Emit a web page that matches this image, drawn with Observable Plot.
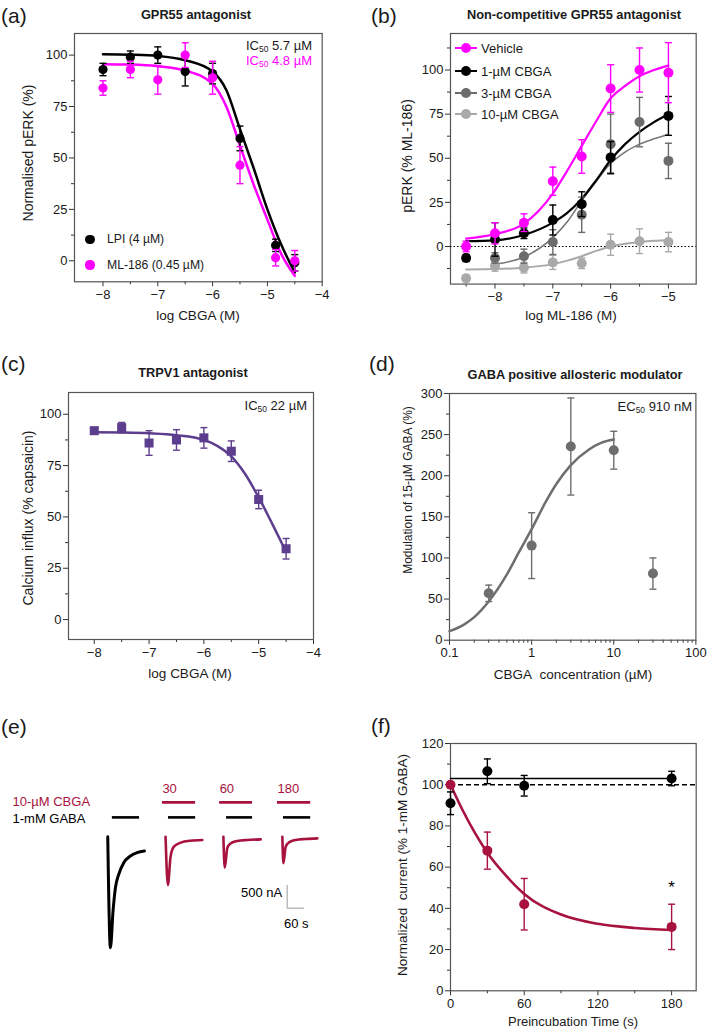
<!DOCTYPE html>
<html><head><meta charset="utf-8">
<script src="https://cdn.jsdelivr.net/npm/d3@7"></script>
<script src="https://cdn.jsdelivr.net/npm/@observablehq/plot@0.6"></script>
<style>
body{margin:0;background:#fff;}
#fig{position:relative;width:709px;height:1032px;font-family:"Liberation Sans",Arial,Helvetica,sans-serif;color:#1a1a1a;overflow:hidden;background:#fff}
.abs{position:absolute;white-space:nowrap;line-height:1}
.plbl{font-size:21px;transform:translate(0,-50%)}
.ttl{font-size:12.8px;font-weight:bold;transform:translate(-50%,-50%)}
.ytl{transform:translate(-50%,-50%) rotate(-90deg);font-size:14px}
.xtl{transform:translate(-50%,-50%);font-size:13.5px}
.ann{font-size:13px;transform:translate(-100%,-50%)}
.leg{transform:translate(0,-50%)}
sub{font-size:0.65em;vertical-align:-0.25em;line-height:0}
svg{overflow:visible}
</style></head><body><div id="fig"></div>
<script>
// ---------------- DATA ----------------
// (a) GPR55 antagonist
const aDose = [-8, -7.5, -7, -6.5, -6, -5.5, -4.85, -4.5];
const aLPI = [93, 99, 100, 92, 91, 59.5, 7.5, -1];
const aLPIerr = [3, 3, 4, 7, 5, 6, 3, 4];
const aML = [84, 93, 88, 100, 89, 46.5, 1.5, 0];
const aMLerr = [3.5, 4, 7, 6, 8, 9, 4, 5];
const aCurveX = [-8, -7.5, -7, -6.5, -6, -5.75, -5.5, -5.25, -5, -4.75, -4.5];
const aLPIcurve = [100.4, 100.2, 99.6, 97.5, 92, 83, 64, 45, 25, 8, -5.7];
const aMLcurve = [95.6, 95.4, 94.6, 92.5, 86, 75, 56, 37, 20, 3.5, -7.3];
const aXticks = [-8, -7, -6, -5, -4];
const aYticks = [0, 25, 50, 75, 100];

// (b) Non-competitive GPR55 antagonist
const bDose = [-8.5, -8, -7.5, -7, -6.5, -6, -5.5, -5];
const bVeh = [0, 7.5, 13.5, 37, 51, 89.5, 100, 98.5];
const bVehErr = [3, 6, 5, 8, 9.5, 13.5, 12.5, 17];
const b1 = [-6.5, 4, 7.5, 15, 24, 50.5, null, 74];
const b1Err = [2, 9.5, 3, 8.5, 7, 9, 0, 11];
const b3 = [null, -6.5, -5.5, 2.5, 18, 58, 70.5, 48.5];
const b3Err = [0, 3, 4, 7, 10, 17, 14, 10];
const b10 = [-18, -11, -12, -9, -9.5, 1, 3, 2.5];
const b10Err = [2, 3, 3, 4, 3, 6, 7, 5.5];
const bCurveX = [-8.5, -8, -7.5, -7, -6.75, -6.5, -6.25, -6, -5.75, -5.5, -5.25, -5];
const bVehCurve = [4.5, 7, 13, 30, 43, 57, 71, 84, 91, 96.5, 100, 102.5];
const b1Curve = [3, 3.5, 6.5, 13.5, 19, 27, 37.5, 49, 58, 65, 70.5, 75];
const b3Curve = [null, -10, -6, 5, 14, 26, 37, 47, 53.5, 58, 61, 63.5];
const b10Curve = [-13, -12.8, -12, -10, -8, -5.5, -2.5, 0, 1.5, 2.5, 3.2, 3.5];
const bLegend = ["Vehicle", "1-µM CBGA", "3-µM CBGA", "10-µM CBGA"];
const bXticks = [-8, -7, -6, -5];
const bYticks = [0, 25, 50, 75, 100];

// (c) TRPV1 antagonist
const cDose = [-8, -7.5, -7, -6.5, -6, -5.5, -5, -4.5];
const cVal = [92, 93.5, 86, 87.5, 88.5, 82, 58.5, 34.5];
const cErr = [1.5, 2.5, 6, 5, 5, 5, 4.5, 5];
const cCurveX = [-8, -7.5, -7, -6.5, -6, -5.75, -5.5, -5.25, -5, -4.75, -4.5];
const cCurve = [91.3, 91.1, 90.7, 89.8, 87.5, 84.5, 79.5, 71, 59.5, 46.5, 33];

// (d) GABA positive allosteric modulator
const dConc = [0.3, 1, 3, 10, 30];
const dVal = [57, 115, 235.5, 231, 81];
const dErr = [10, 40, 59, 23, 19];
const dCurveX = [0.1, 0.15, 0.2, 0.3, 0.5, 0.7, 1, 1.5, 2, 3, 5, 7, 10];
const dCurve = [11, 19, 28, 47, 80, 107, 135, 169, 190, 213, 232, 240, 244];
const dXticks = [0.1, 1, 10, 100];
const dYticks = [0, 50, 100, 150, 200, 250, 300];

// (e) example traces (time s, current nA)
const eSweepStart = [371, 571, 771, 975];
const eShapeT = [[0, 9.2, 18.3, 26.6, 38, 55.4, 78.5, 101.4, 127],
                 [0, 8, 17.3, 28.7, 52, 86.5, 127],
                 [0, 4.6, 13.8, 25.3, 48.4, 83, 129],
                 [0, 3.5, 11.5, 23, 46, 80.6, 121]];
const eShapeI = [[0, -2445, -1637, -1123, -830, -573, -425, -352, -315],
                 [0, -1064, -440, -220, -132, -88, -73],
                 [0, -683, -242, -147, -95, -73, -59],
                 [0, -587, -220, -125, -73, -51, -37]];
const eGabaStart = [387, 581, 782, 979];
const eGabaEnd = [481, 675, 872, 1073];
const eCbgaStart = [560, 758, 958];
const eCbgaEnd = [675, 872, 1073];
const eCbgaLabel = ["30", "60", "180"];

// (f) preincubation time course
const fTime = [0, 30, 60, 180];
const fCtrl = [91, 106.5, 99.5, 103];
const fCtrlErr = [5.5, 6, 5, 3.5];
const fCbga = [100, 68, 42, 31];
const fCbgaErr = [0, 9, 12.5, 11];
const fCtrlFitX = [0, 180];
const fCtrlFit = [103, 103];
const fCurveX = [0, 10, 20, 30, 45, 60, 90, 120, 150, 180];
const fCurve = [100, 87.5, 76.5, 67, 56, 47, 37, 32.5, 30.5, 29.5];
const fXticks = [0, 60, 120, 180];
const fYticks = [0, 20, 40, 60, 80, 100, 120];

// ---------------- HELPERS ----------------
const fig = document.getElementById("fig");
const FONT = '"Liberation Sans", Arial, Helvetica, sans-serif';
const MAG = "#ff00ff", CRIM = "#a8123e", PURP = "#5c3d8e", DGRAY = "#6e6e6e";
const rows = (xs, ys, es) => xs.map((x, i) => ({x, y: ys[i], e: es ? es[i] : 0})).filter(d => d.y != null);
const cap = {draw(ctx, size) { const r = Math.sqrt(size / Math.PI); ctx.moveTo(-r, 0); ctx.lineTo(r, 0); }};
const intFmt = v => (v < 0 ? "\u2212" + Math.abs(v) : String(v));

function errMarks(data, color, capR = 3.5, sw = 1.4) {
  const d = data.filter(r => r.e > 0);
  return [
    Plot.ruleX(d, {x: "x", y1: r => r.y - r.e, y2: r => r.y + r.e, stroke: color, strokeWidth: sw}),
    Plot.dot(d, {x: "x", y: r => r.y + r.e, symbol: cap, r: capR, fill: "none", stroke: color, strokeWidth: sw}),
    Plot.dot(d, {x: "x", y: r => r.y - r.e, symbol: cap, r: capR, fill: "none", stroke: color, strokeWidth: sw})
  ];
}
function minorBetween(ticks, n) {
  const out = [];
  for (let i = 0; i < ticks.length - 1; i++) {
    const s = (ticks[i + 1] - ticks[i]) / n;
    for (let k = 1; k < n; k++) out.push(ticks[i] + k * s);
  }
  return out;
}
function axisMarks({xMajor, xMinor, yMajor, yMinor, xFmt = intFmt}) {
  const m = [
    Plot.axisX({ticks: xMajor, tickSize: 5, tickPadding: 3, label: null, tickFormat: xFmt, fontSize: 13, stroke: "#333"}),
    Plot.axisY({ticks: yMajor, tickSize: 5, tickPadding: 2, label: null, tickFormat: intFmt, fontSize: 13, stroke: "#333"})
  ];
  if (xMinor) m.push(Plot.axisX({ticks: xMinor, tickSize: 3, tickFormat: () => "", label: null, stroke: "#333"}));
  if (yMinor) m.push(Plot.axisY({ticks: yMinor, tickSize: 3, tickFormat: () => "", label: null, stroke: "#333"}));
  m.push(Plot.frame({stroke: "#555", strokeWidth: 1.2}));
  return m;
}
function panel(frame, x, y, marks) {
  const [x0, y0, x1, y1] = frame;
  const mL = 50, mT = 12, mR = 12, mB = 30;
  const node = Plot.plot({
    width: (x1 - x0) + mL + mR, height: (y1 - y0) + mT + mB,
    marginLeft: mL, marginTop: mT, marginRight: mR, marginBottom: mB,
    x, y,
    style: {fontFamily: FONT, fontSize: "13px", color: "#1a1a1a", background: "transparent", overflow: "visible"},
    marks
  });
  node.style.position = "absolute";
  node.style.left = (x0 - mL) + "px";
  node.style.top = (y0 - mT) + "px";
  fig.appendChild(node);
}
function txt(html, x, y, cls, extra = "") {
  const d = document.createElement("div");
  d.className = "abs " + cls;
  d.style.cssText += `left:${x}px;top:${y}px;${extra}`;
  d.innerHTML = html;
  fig.appendChild(d);
}
function legDot(x, y, color, r) {
  txt("", x - r, y - r, "", `width:${2*r}px;height:${2*r}px;border-radius:50%;background:${color}`);
}
function legLine(x0, x1, y, color) {
  txt("", x0, y - 1, "", `width:${x1 - x0}px;height:2px;background:${color}`);
}

// ---------------- PANEL A ----------------
{
  const lpi = rows(aDose, aLPI, aLPIerr), ml = rows(aDose, aML, aMLerr);
  panel([74, 32.7, 321.7, 281],
    {domain: [-8.52, -4]}, {domain: [-10.2, 110.5]},
    [
      ...axisMarks({xMajor: aXticks, xMinor: minorBetween(aXticks, 2), yMajor: aYticks, yMinor: minorBetween(aYticks, 2)}),
      Plot.line(rows(aCurveX, aLPIcurve), {x: "x", y: "y", stroke: "#000", strokeWidth: 2.5, curve: "monotone-x"}),
      Plot.line(rows(aCurveX, aMLcurve), {x: "x", y: "y", stroke: MAG, strokeWidth: 2.5, curve: "monotone-x"}),
      ...errMarks(lpi, "#000"),
      Plot.dot(lpi, {x: "x", y: "y", r: 4.6, fill: "#000"}),
      ...errMarks(ml, MAG),
      Plot.dot(ml, {x: "x", y: "y", r: 4.6, fill: MAG})
    ]);
}
txt("(a)", 1, 15, "plbl");
txt("GPR55 antagonist", 196, 15, "ttl");
txt("Normalised pERK (%)", 28, 153, "ytl");
txt("log CBGA (M)", 198, 316, "xtl");
txt("IC<sub>50</sub> 5.7 µM", 312, 45, "ann");
txt("IC<sub>50</sub> 4.8 µM", 312, 60, "ann", `color:${MAG}`);
legDot(90, 239.3, "#000", 4.6);
txt("LPI (4 µM)", 107, 239.3, "leg", "font-size:12.2px");
legDot(90, 265, MAG, 4.6);
txt("ML-186 (0.45 µM)", 107, 265, "leg", "font-size:12.2px");

// ---------------- PANEL B ----------------
{
  const C10 = "#a9a9a9", C3 = "#6b6b6b";
  const veh = rows(bDose, bVeh, bVehErr), s1 = rows(bDose, b1, b1Err), s3 = rows(bDose, b3, b3Err), s10 = rows(bDose, b10, b10Err);
  panel([450, 32.7, 695.7, 283.3],
    {domain: [-8.77, -4.52]}, {domain: [-21.3, 120.7]},
    [
      ...axisMarks({xMajor: bXticks, xMinor: [-8.5, -7.5, -6.5, -5.5], yMajor: bYticks, yMinor: [-12.5, ...minorBetween(bYticks, 2), 112.5]}),
      Plot.ruleY([0], {stroke: "#000", strokeWidth: 1.2, strokeDasharray: "1.5,2"}),
      Plot.line(rows(bCurveX, b10Curve), {x: "x", y: "y", stroke: C10, strokeWidth: 2, curve: "monotone-x"}),
      Plot.line(rows(bCurveX, b3Curve), {x: "x", y: "y", stroke: "#777", strokeWidth: 1.6, curve: "monotone-x"}),
      Plot.line(rows(bCurveX, b1Curve), {x: "x", y: "y", stroke: "#000", strokeWidth: 2.2, curve: "monotone-x"}),
      Plot.line(rows(bCurveX, bVehCurve), {x: "x", y: "y", stroke: MAG, strokeWidth: 2.2, curve: "monotone-x"}),
      ...errMarks(s10, C10), Plot.dot(s10, {x: "x", y: "y", r: 5, fill: C10}),
      ...errMarks(s3, C3), Plot.dot(s3, {x: "x", y: "y", r: 5, fill: C3}),
      ...errMarks(s1, "#000"), Plot.dot(s1, {x: "x", y: "y", r: 5, fill: "#000"}),
      ...errMarks(veh, MAG), Plot.dot(veh, {x: "x", y: "y", r: 5, fill: MAG})
    ]);
  const legC = [MAG, "#000", C3, C10];
  const legY = [48.3, 70.5, 92.5, 113.5];
  bLegend.forEach((lab, i) => {
    legLine(455, 477, legY[i], legC[i]);
    legDot(466, legY[i], legC[i], 5);
    txt(lab, 481, legY[i], "leg", "font-size:13px");
  });
}
txt("(b)", 371, 15, "plbl");
txt("Non-competitive GPR55 antagonist", 574, 15, "ttl");
txt("pERK (% ML-186)", 407, 156, "ytl");
txt("log ML-186 (M)", 571, 316, "xtl");

// ---------------- PANEL C ----------------
{
  const c = rows(cDose, cVal, cErr);
  panel([68.3, 392.3, 313.3, 639.3],
    {domain: [-8.47, -4]}, {domain: [-9.7, 110.6]},
    [
      ...axisMarks({xMajor: aXticks, xMinor: minorBetween(aXticks, 2), yMajor: aYticks, yMinor: minorBetween(aYticks, 2)}),
      Plot.line(rows(cCurveX, cCurve), {x: "x", y: "y", stroke: PURP, strokeWidth: 2.5, curve: "monotone-x"}),
      ...errMarks(c, PURP),
      Plot.dot(c, {x: "x", y: "y", symbol: "square", r: 5.1, fill: PURP})
    ]);
}
txt("(c)", 1, 363, "plbl");
txt("TRPV1 antagonist", 193, 373, "ttl");
txt("Calcium influx (% capsaicin)", 28, 518, "ytl");
txt("log CBGA (M)", 190, 674, "xtl");
txt("IC<sub>50</sub> 22 µM", 307, 405, "ann");

// ---------------- PANEL D ----------------
{
  const d = rows(dConc, dVal, dErr);
  const minor = [];
  [0.1, 1, 10].forEach(b => { for (let k = 2; k <= 9; k++) minor.push(b * k); });
  panel([449.3, 393.3, 695.7, 640],
    {type: "log", domain: [0.1, 100]}, {domain: [0, 300]},
    [
      ...axisMarks({xMajor: dXticks, xMinor: minor, yMajor: dYticks, yMinor: minorBetween(dYticks, 2), xFmt: v => String(v)}),
      Plot.line(rows(dCurveX, dCurve), {x: "x", y: "y", stroke: DGRAY, strokeWidth: 2.5, curve: "monotone-x"}),
      ...errMarks(d, DGRAY),
      Plot.dot(d, {x: "x", y: "y", r: 5, fill: DGRAY})
    ]);
}
txt("(d)", 369, 363, "plbl");
txt("GABA positive allosteric modulator", 575, 375, "ttl");
txt("Modulation of 15-µM GABA (%)", 408, 490, "ytl", "font-size:12px");
txt("CBGA&nbsp; concentration (µM)", 573, 675, "xtl");
txt("EC<sub>50</sub> 910 nM", 692, 406, "ann");

// ---------------- PANEL E ----------------
{
  const trace = [];
  eSweepStart.forEach((t0, s) => eShapeT[s].forEach((dt, k) => trace.push({sweep: s, t: t0 + dt, i: eShapeI[s][k]})));
  const gaba = eGabaStart.map((t1, k) => ({t1, t2: eGabaEnd[k]}));
  const cbga = eCbgaStart.map((t1, k) => ({t1, t2: eCbgaEnd[k], label: eCbgaLabel[k]}));
  const node = Plot.plot({
    width: 355, height: 330, margin: 0,
    x: {domain: [0, 1228], axis: null},
    y: {domain: [-4270, 3000], axis: null},
    style: {fontFamily: FONT, fontSize: "13px", background: "transparent", overflow: "visible"},
    marks: [
      Plot.line(trace.filter(d => d.sweep === 0), {x: "t", y: "i", stroke: "#000", strokeWidth: 3, curve: "monotone-x"}),
      Plot.line(trace.filter(d => d.sweep > 0), {x: "t", y: "i", z: "sweep", stroke: CRIM, strokeWidth: 2.6, curve: "monotone-x"}),
      Plot.ruleY(gaba, {x1: "t1", x2: "t2", y: 425, stroke: "#000", strokeWidth: 2.6}),
      Plot.ruleY(cbga, {x1: "t1", x2: "t2", y: 755, stroke: CRIM, strokeWidth: 2.6}),
      Plot.text(cbga, {x: "t1", y: 1062, text: "label", textAnchor: "start", fill: CRIM, fontSize: 13}),
      Plot.text(["10-µM CBGA"], {x: 41.5, y: 760, text: d => d, textAnchor: "start", fill: CRIM, fontSize: 13}),
      Plot.text(["1-mM GABA"], {x: 41.5, y: 401, text: d => d, textAnchor: "start", fill: "#000", fontSize: 13}),
      Plot.ruleX([991.7], {y1: -1575, y2: -1075, stroke: "#aaa", strokeWidth: 1.2}),
      Plot.ruleY([-1575], {x1: 991.7, x2: 1051.7, stroke: "#aaa", strokeWidth: 1.2}),
      Plot.text(["500 nA"], {x: 974.5, y: -1245, text: d => d, textAnchor: "end", fill: "#000", fontSize: 13}),
      Plot.text(["60 s"], {x: 1023, y: -1919, text: d => d, fill: "#000", fontSize: 13})
    ]
  });
  node.style.position = "absolute"; node.style.left = "0px"; node.style.top = "700px";
  fig.appendChild(node);
}
txt("(e)", 1, 726, "plbl");

// ---------------- PANEL F ----------------
{
  const ctrl = rows(fTime, fCtrl, fCtrlErr), cb = rows(fTime, fCbga, fCbgaErr);
  panel([450, 742.7, 695.7, 990],
    {domain: [0, 200]}, {domain: [0, 120]},
    [
      ...axisMarks({xMajor: fXticks, xMinor: [30, 90, 150], yMajor: fYticks, yMinor: minorBetween(fYticks, 2)}),
      Plot.ruleY([100], {stroke: "#000", strokeWidth: 1.6, strokeDasharray: "5,3"}),
      Plot.line(rows(fCtrlFitX, fCtrlFit), {x: "x", y: "y", stroke: "#000", strokeWidth: 1.6}),
      Plot.line(rows(fCurveX, fCurve), {x: "x", y: "y", stroke: CRIM, strokeWidth: 2.6, curve: "monotone-x"}),
      ...errMarks(ctrl, "#000"), Plot.dot(ctrl, {x: "x", y: "y", r: 5, fill: "#000"}),
      ...errMarks(cb, CRIM), Plot.dot(cb, {x: "x", y: "y", r: 5, fill: CRIM}),
      Plot.text([{x: 180, y: 52}], {x: "x", y: "y", text: () => "*", fontSize: 17, fill: "#000", dy: 4})
    ]);
}
txt("(f)", 371, 725, "plbl");
txt("Normalized&nbsp; current (% 1-mM GABA)", 403, 865, "ytl", "font-size:13.5px");
txt("Preincubation Time (s)", 573, 1021, "xtl", "font-size:13px");
</script></body></html>
